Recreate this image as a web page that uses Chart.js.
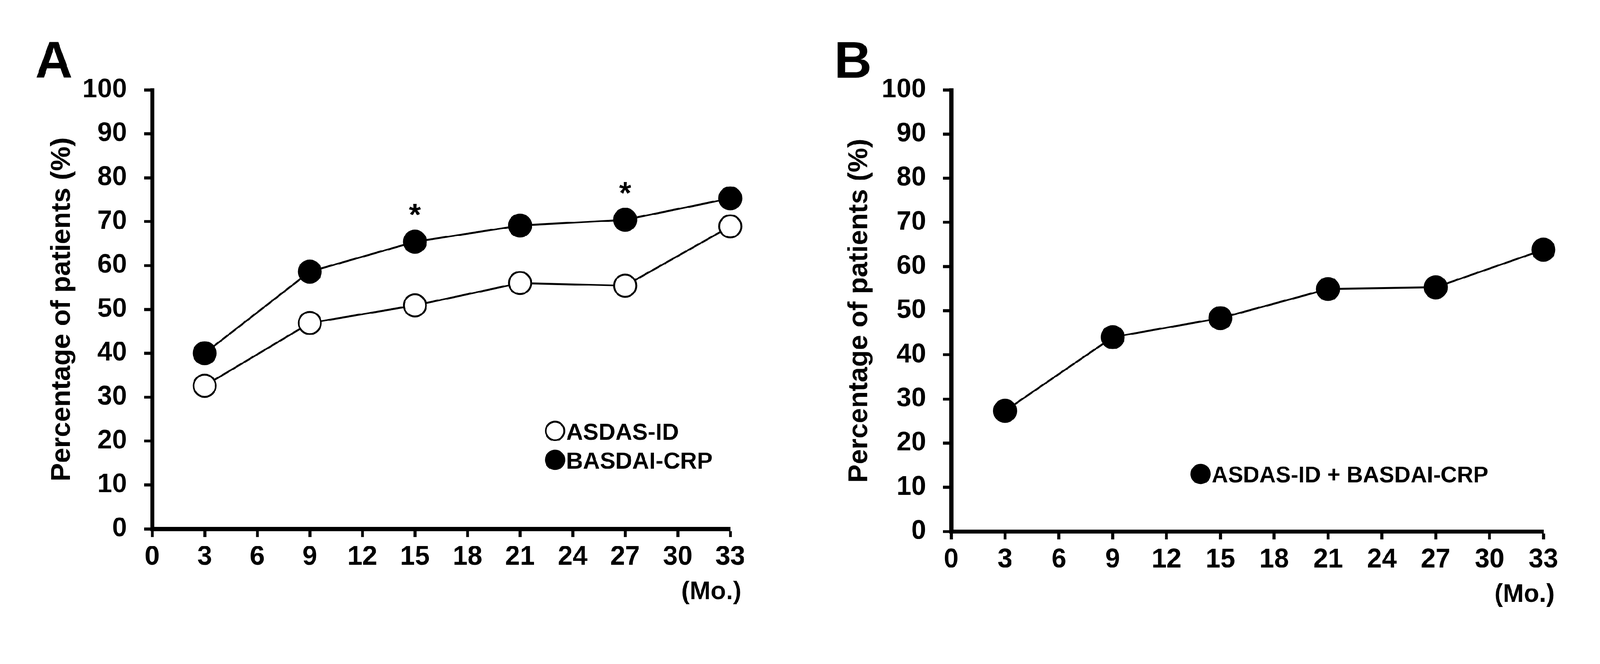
<!DOCTYPE html>
<html>
<head>
<meta charset="utf-8">
<script src="https://cdn.jsdelivr.net/npm/chart.js@4.4.1/dist/chart.umd.min.js"></script>
<style>
  html, body { margin: 0; padding: 0; background: #fff; width: 100%; height: 100%; overflow: hidden; }
  #wrap { position: absolute; left: 0; top: 0; width: 4323px; height: 1700px; transform-origin: 0 0; background: #fff; }
  canvas { position: absolute; top: 0; }
  #cA { left: 0; }
  #cB { left: 2160px; }
</style>
</head>
<body>
<div id="wrap">
<canvas id="cA" width="2160" height="1700"></canvas>
<canvas id="cB" width="2163" height="1700"></canvas>
</div>
<script>
// ---- data ----
const months = [3, 9, 15, 21, 27, 33];
const asdasID = [32.6, 46.9, 50.9, 56.0, 55.4, 68.9];
const basdaiCRP = [40.0, 58.6, 65.4, 69.1, 70.4, 75.3];
const combined = [27.3, 44.0, 48.3, 54.9, 55.3, 63.8];
const significantMonths = [15, 27];
const xTickValues = [0, 3, 6, 9, 12, 15, 18, 21, 24, 27, 30, 33];
const yTickValues = [0, 10, 20, 30, 40, 50, 60, 70, 80, 90, 100];
const seriesNamesA = ['ASDAS-ID', 'BASDAI-CRP'];
const seriesNameB = 'ASDAS-ID + BASDAI-CRP';
const yTitle = 'Percentage of patients (%)';
const xUnit = '(Mo.)';

const FAMILY = '"Liberation Sans", Arial, sans-serif';

// fit the 4323x1700 design into the actual viewport
(function fit() {
  const s = Math.min(window.innerWidth / 4323, window.innerHeight / 1700);
  document.getElementById('wrap').style.transform = 'scale(' + s + ')';
})();

function pts(arr) { return months.map((m, i) => ({ x: m, y: arr[i] })); }

function lineDataset(label, arr, fillColor) {
  return {
    label: label,
    data: pts(arr),
    borderColor: '#000',
    borderWidth: 5,
    pointRadius: 30,
    pointHoverRadius: 30,
    pointBorderWidth: 5,
    pointBackgroundColor: fillColor,
    pointBorderColor: '#000',
    showLine: true,
    fill: false,
    tension: 0,
    clip: false
  };
}

function annotPlugin(cfg) {
  return {
    id: 'annot',
    afterDraw(chart) {
      const ctx = chart.ctx;
      const xs = chart.scales.x, ys = chart.scales.y;
      const area = chart.chartArea;
      ctx.save();
      ctx.fillStyle = '#000';
      ctx.strokeStyle = '#000';
      // panel letter
      ctx.font = 'bold 140px ' + FAMILY;
      ctx.textAlign = 'left';
      ctx.textBaseline = 'alphabetic';
      ctx.fillText(cfg.letter, cfg.letterX, 210);
      // unit label
      ctx.font = 'bold 68px ' + FAMILY;
      ctx.textAlign = 'center';
      ctx.fillText(xUnit, xs.getPixelForValue(33) - 51, area.bottom + 190);
      // legend
      cfg.legend.forEach(item => {
        const cx = xs.getPixelForValue(item.x);
        const cy = ys.getPixelForValue(item.y);
        ctx.beginPath();
        ctx.arc(cx, cy, 25, 0, Math.PI * 2);
        ctx.fillStyle = item.fill;
        ctx.fill();
        ctx.lineWidth = 5;
        ctx.strokeStyle = '#000';
        ctx.stroke();
        ctx.fillStyle = '#000';
        ctx.font = 'bold ' + cfg.legendFont + 'px ' + FAMILY;
        ctx.textAlign = 'left';
        ctx.fillText(item.label, cx + 30, cy + Math.round(cfg.legendFont * 0.358));
      });
      // significance asterisks
      if (cfg.stars) {
        ctx.font = 'bold 84px ' + FAMILY;
        ctx.textAlign = 'center';
        cfg.stars.months.forEach(m => {
          const i = months.indexOf(m);
          const px = xs.getPixelForValue(m);
          const py = ys.getPixelForValue(cfg.stars.series[i]) - 92;
          ctx.fillText('*', px, py + 48);
        });
      }
      ctx.restore();
    }
  };
}

function makePanel(id, cfg) {
  const tickFont = { family: FAMILY, size: 72, weight: 'bold' };
  return new Chart(document.getElementById(id), {
    type: 'line',
    data: { datasets: cfg.datasets },
    options: {
      responsive: false,
      animation: false,
      devicePixelRatio: 1,
      events: [],
      layout: { padding: { left: 0, right: cfg.padRight, top: 243, bottom: 0 } },
      plugins: { legend: { display: false }, tooltip: { enabled: false } },
      scales: {
        x: {
          type: 'linear',
          min: 0, max: 33,
          afterBuildTicks: s => { s.ticks = xTickValues.map(v => ({ value: v })); },
          afterFit: s => { s.height = cfg.xHeight; },
          ticks: { font: tickFont, color: '#000', padding: 12, autoSkip: false, maxRotation: 0 },
          grid: { drawOnChartArea: false, color: '#000', tickLength: 22, tickWidth: 8 },
          border: { color: '#000', width: 11 }
        },
        y: {
          type: 'linear',
          min: 0, max: 100,
          afterBuildTicks: s => { s.ticks = yTickValues.map(v => ({ value: v })); },
          afterFit: s => { s.width = cfg.yWidth; },
          ticks: { font: tickFont, color: '#000', padding: 46, autoSkip: false },
          grid: { drawOnChartArea: false, color: '#000', tickLength: 22, tickWidth: 8 },
          border: { color: '#000', width: 11 },
          title: {
            display: true,
            text: yTitle,
            color: '#000',
            font: { family: FAMILY, size: 74, weight: 'bold' },
            padding: { top: cfg.titlePad, bottom: 0 }
          }
        }
      }
    },
    plugins: [annotPlugin(cfg)]
  });
}

makePanel('cA', {
  datasets: [
    lineDataset(seriesNamesA[0], asdasID, '#fff'),
    lineDataset(seriesNamesA[1], basdaiCRP, '#000')
  ],
  padRight: 187, xHeight: 271, yWidth: 411, titlePad: 124,
  letter: 'A', letterX: 95, legendFont: 63,
  legend: [
    { label: seriesNamesA[0], fill: '#fff', x: 23.0, y: 22.3 },
    { label: seriesNamesA[1], fill: '#000', x: 23.0, y: 15.7 }
  ],
  stars: { months: significantMonths, series: basdaiCRP }
});

makePanel('cB', {
  datasets: [ lineDataset(seriesNameB, combined, '#000') ],
  padRight: 153, xHeight: 264, yWidth: 410, titlePad: 118,
  letter: 'B', letterX: 94, legendFont: 61,
  legend: [ { label: seriesNameB, fill: '#000', x: 13.9, y: 13.0 } ],
  stars: null
});
</script>
</body>
</html>
